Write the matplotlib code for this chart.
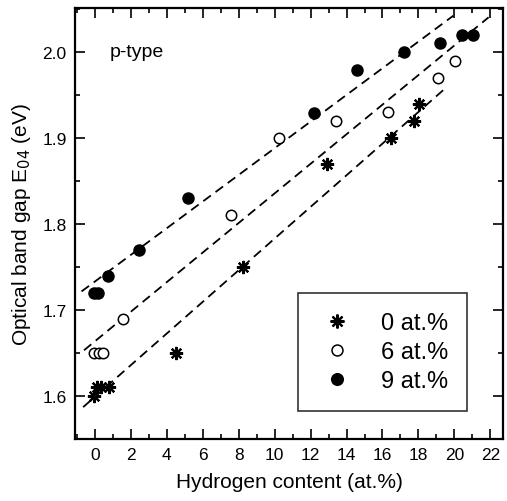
import numpy as np
import matplotlib
matplotlib.use("Agg")
import matplotlib.pyplot as plt
from matplotlib.ticker import MultipleLocator

plt.rcParams['font.family'] = ['Liberation Sans', 'DejaVu Sans']

# 0 at.% (stars)
h0 = [-0.04, 0.1, 0.35, 0.8, 4.5, 8.26, 12.9, 16.47, 17.73, 18.02]
e0 = [1.600, 1.610, 1.611, 1.610, 1.650, 1.750, 1.870, 1.900, 1.920, 1.940]
# 6 at.% (open circles)
h6 = [-0.04, 0.24, 0.46, 1.58, 7.58, 10.27, 13.39, 16.3, 19.09, 20.02]
e6 = [1.650, 1.650, 1.650, 1.690, 1.810, 1.900, 1.920, 1.930, 1.970, 1.990]
# 9 at.% (filled circles)
h9 = [-0.05, 0.2, 0.72, 2.45, 5.16, 12.2, 14.58, 17.18, 19.18, 20.43, 21.04]
e9 = [1.720, 1.720, 1.740, 1.770, 1.830, 1.929, 1.979, 2.000, 2.010, 2.020, 2.020]

# linear fits: slope, intercept, x range
fit_slope = [0.0184, 0.0172, 0.0155]
fit_icpt = [1.599, 1.6635, 1.733]
fit_x0 = [-0.65, -0.6, -0.74]
fit_x1 = [19.6, 21.9, 19.94]

labels = ["0 at.%", "6 at.%", "9 at.%"]

fig = plt.figure(figsize=(5.07, 5.02), dpi=100)
ax = fig.add_axes([0.148, 0.1235, 0.844, 0.8585])

for k, b, x0, x1 in zip(fit_slope, fit_icpt, fit_x0, fit_x1):
    xx = np.array([x0, x1])
    ax.plot(xx, k * xx + b, color="black", lw=1.3, ls=(0, (5.2, 3.2)), zorder=1)

ax.plot(h0, e0, ls="none", marker=(8, 2, 0), ms=9.5, mew=1.6, color="black",
        label=labels[0], zorder=3)
ax.plot(h6, e6, ls="none", marker="o", ms=7.5, mew=1.1, mfc="white", mec="black",
        label=labels[1], zorder=3)
ax.plot(h9, e9, ls="none", marker="o", ms=8, mfc="black", mec="black",
        label=labels[2], zorder=3)

ax.set_xlim(-1.1, 22.7)
ax.set_ylim(1.55, 2.051)
ax.xaxis.set_major_locator(MultipleLocator(2))
ax.xaxis.set_minor_locator(MultipleLocator(1))
ax.yaxis.set_major_locator(MultipleLocator(0.1))
ax.yaxis.set_minor_locator(MultipleLocator(0.05))
ax.yaxis.set_major_formatter(plt.FormatStrFormatter("%.1f"))
ax.tick_params(which="both", direction="in", top=True, right=True,
               labelsize=12.5, width=1.2, pad=6)
ax.tick_params(which="major", length=7)
ax.tick_params(which="minor", length=3.5)
for s in ax.spines.values():
    s.set_linewidth(1.6)

ax.set_xlabel("Hydrogen content (at.%)", fontsize=15, labelpad=7)
ax.set_ylabel("Optical band gap E$_{04}$ (eV)", fontsize=15, labelpad=7)
ax.text(0.83, 2.0, "p-type", fontsize=14, va="center", ha="left")

leg = ax.legend(loc="lower right", bbox_to_anchor=(0.916, 0.065), fontsize=17,
                frameon=True, fancybox=False, edgecolor="black", borderaxespad=0,
                handletextpad=1.0, borderpad=0.8, labelspacing=0.3,
                handlelength=1.7, markerscale=1.05)
leg.get_frame().set_linewidth(1.2)

fig.savefig("out.png", dpi=100)
